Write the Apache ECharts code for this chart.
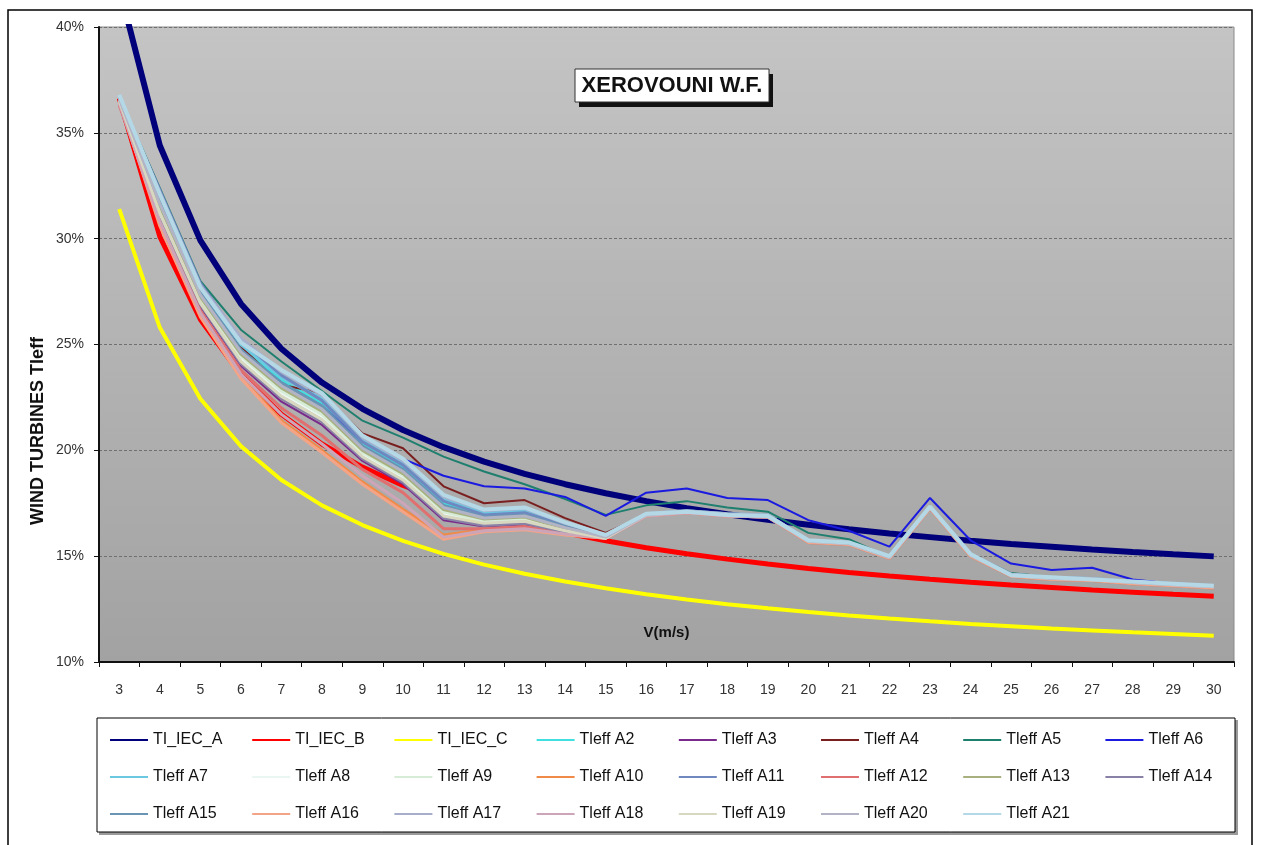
<!DOCTYPE html>
<html>
<head>
<meta charset="utf-8">
<script src="https://cdn.jsdelivr.net/npm/echarts@6/dist/echarts.min.js"></script>
<style>
  html, body { margin: 0; padding: 0; background: #ffffff; }
  #chart { width: 1264px; height: 845px; }
</style>
</head>
<body>
<div id="chart"></div>
<script>
// Wind speed bins (m/s)
const categories = ['3','4','5','6','7','8','9','10','11','12','13','14','15','16','17','18','19','20','21','22','23','24','25','26','27','28','29','30'];

// Turbulence intensity (%) — IEC reference classes
const tiIecA = [41.87, 34.4, 29.92, 26.93, 24.8, 23.2, 21.96, 20.96, 20.15, 19.47, 18.89, 18.4, 17.97, 17.6, 17.27, 16.98, 16.72, 16.48, 16.27, 16.07, 15.9, 15.73, 15.58, 15.45, 15.32, 15.2, 15.09, 14.99];
const tiIecB = [36.63, 30.1, 26.18, 23.57, 21.7, 20.3, 19.21, 18.34, 17.63, 17.03, 16.53, 16.1, 15.73, 15.4, 15.11, 14.86, 14.63, 14.42, 14.23, 14.06, 13.91, 13.77, 13.64, 13.52, 13.4, 13.3, 13.2, 13.11];
const tiIecC = [31.4, 25.8, 22.44, 20.2, 18.6, 17.4, 16.47, 15.72, 15.11, 14.6, 14.17, 13.8, 13.48, 13.2, 12.95, 12.73, 12.54, 12.36, 12.2, 12.05, 11.92, 11.8, 11.69, 11.58, 11.49, 11.4, 11.32, 11.24];

// Effective turbulence intensity (%) per turbine position
const tleffA2  = [36.6, 31.9, 27.5, 24.85, 23.3, 22.2, 20.3, 19.2, 17.5, 17.0, 17.1, 16.5, 15.95, 16.95, 17.1, 16.95, 16.9, 15.7, 15.6, 14.95, 17.3, 15.05, 14.1, 13.95, 13.9, 13.75, 13.65, 13.55];
const tleffA3  = [36.4, 31.0, 26.8, 24.0, 22.3, 21.2, 19.5, 18.4, 16.7, 16.4, 16.5, 16.1, 15.85, 16.9, 17.05, 16.9, 16.85, 15.65, 15.55, 14.9, 17.25, 15.0, 14.05, 13.9, 13.85, 13.7, 13.6, 13.5];
const tleffA4  = [36.6, 31.9, 27.5, 24.9, 23.1, 22.7, 20.8, 20.1, 18.3, 17.5, 17.65, 16.8, 16.1, 16.95, 17.1, 16.95, 16.9, 15.7, 15.6, 14.95, 17.3, 15.05, 14.1, 13.95, 13.9, 13.75, 13.65, 13.55];
const tleffA5  = [36.7, 32.4, 28.0, 25.7, 24.2, 22.8, 21.4, 20.6, 19.7, 19.0, 18.4, 17.7, 16.95, 17.4, 17.6, 17.3, 17.1, 16.1, 15.8, 14.95, 17.3, 15.1, 14.2, 14.0, 13.95, 13.8, 13.65, 13.55];
const tleffA6  = [36.7, 31.8, 27.4, 24.7, 23.2, 22.1, 20.4, 19.6, 18.8, 18.3, 18.2, 17.8, 16.9, 18.0, 18.2, 17.75, 17.65, 16.7, 16.2, 15.45, 17.75, 15.75, 14.65, 14.35, 14.45, 13.9, 13.7, 13.6];
const tleffA7  = [36.7, 32.0, 27.6, 25.0, 23.45, 22.45, 20.5, 19.4, 17.7, 17.05, 17.15, 16.5, 16.0, 17.0, 17.15, 17.0, 16.95, 15.75, 15.65, 15.0, 17.35, 15.1, 14.15, 14.0, 13.95, 13.8, 13.7, 13.6];
const tleffA8  = [36.5, 31.35, 27.05, 24.35, 22.7, 21.6, 19.8, 18.7, 17.0, 16.6, 16.7, 16.2, 15.9, 16.95, 17.1, 16.95, 16.9, 15.7, 15.6, 14.95, 17.3, 15.05, 14.1, 13.95, 13.9, 13.75, 13.65, 13.55];
const tleffA9  = [36.6, 31.45, 27.15, 24.45, 22.8, 21.7, 19.9, 18.8, 17.1, 16.65, 16.75, 16.25, 15.9, 16.9, 17.05, 16.9, 16.85, 15.7, 15.6, 14.95, 17.3, 15.05, 14.1, 13.95, 13.9, 13.75, 13.65, 13.55];
const tleffA10 = [36.5, 30.7, 26.4, 23.5, 21.4, 20.0, 18.5, 17.2, 16.0, 16.25, 16.35, 16.1, 15.9, 16.9, 17.05, 16.9, 16.85, 15.65, 15.55, 14.9, 17.25, 15.0, 14.05, 13.9, 13.85, 13.7, 13.6, 13.5];
const tleffA11 = [36.6, 32.3, 27.9, 25.2, 23.55, 22.35, 20.4, 19.3, 17.6, 16.95, 17.05, 16.45, 15.95, 16.95, 17.1, 16.95, 16.9, 15.7, 15.6, 14.95, 17.3, 15.05, 14.1, 13.95, 13.9, 13.75, 13.65, 13.55];
const tleffA12 = [36.3, 30.9, 26.6, 23.8, 22.0, 20.7, 19.1, 18.0, 16.3, 16.3, 16.4, 16.1, 15.85, 16.9, 17.05, 16.9, 16.85, 15.7, 15.6, 14.95, 17.3, 15.05, 14.1, 13.95, 13.9, 13.75, 13.65, 13.55];
const tleffA13 = [36.5, 31.55, 27.25, 24.55, 22.95, 21.85, 20.0, 18.9, 17.2, 16.75, 16.85, 16.3, 15.9, 16.95, 17.1, 16.95, 16.9, 15.7, 15.6, 14.95, 17.3, 15.05, 14.1, 13.95, 13.9, 13.75, 13.65, 13.55];
const tleffA14 = [36.6, 31.1, 26.9, 24.1, 22.45, 21.35, 19.6, 18.5, 16.8, 16.45, 16.55, 16.15, 15.85, 16.9, 17.05, 16.9, 16.85, 15.65, 15.55, 14.9, 17.25, 15.0, 14.05, 13.9, 13.85, 13.7, 13.6, 13.5];
const tleffA15 = [36.7, 31.75, 27.45, 24.75, 23.2, 22.1, 20.2, 19.1, 17.4, 16.85, 16.95, 16.4, 15.95, 16.95, 17.1, 16.95, 16.9, 15.7, 15.6, 14.95, 17.3, 15.05, 14.1, 13.95, 13.9, 13.75, 13.65, 13.55];
const tleffA16 = [36.5, 30.6, 26.3, 23.4, 21.3, 19.9, 18.4, 17.1, 15.8, 16.15, 16.25, 16.0, 15.85, 16.9, 17.05, 16.9, 16.85, 15.65, 15.55, 14.9, 17.25, 15.0, 14.05, 13.9, 13.85, 13.7, 13.6, 13.5];
const tleffA17 = [36.7, 32.2, 27.8, 25.3, 23.7, 22.6, 20.6, 19.5, 17.8, 17.15, 17.25, 16.55, 16.0, 17.0, 17.15, 17.0, 16.95, 15.75, 15.65, 15.0, 17.35, 15.1, 14.15, 14.0, 13.95, 13.8, 13.7, 13.6];
const tleffA18 = [36.4, 30.8, 26.5, 23.6, 21.7, 20.3, 18.8, 17.5, 15.9, 16.2, 16.3, 16.05, 15.85, 16.9, 17.05, 16.9, 16.85, 15.7, 15.6, 14.95, 17.3, 15.05, 14.1, 13.95, 13.9, 13.75, 13.65, 13.55];
const tleffA19 = [36.5, 31.2, 26.95, 24.2, 22.55, 21.45, 19.7, 18.6, 16.9, 16.55, 16.65, 16.2, 15.85, 16.95, 17.1, 16.95, 16.9, 15.7, 15.6, 14.95, 17.3, 15.05, 14.1, 13.95, 13.9, 13.75, 13.65, 13.55];
const tleffA20 = [36.6, 31.65, 27.35, 24.65, 23.05, 21.95, 20.1, 19.0, 17.3, 16.8, 16.9, 16.35, 15.9, 16.95, 17.1, 16.95, 16.9, 15.7, 15.6, 14.95, 17.3, 15.05, 14.1, 13.95, 13.9, 13.75, 13.65, 13.55];
const tleffA21 = [36.8, 32.1, 27.7, 25.1, 23.8, 22.7, 20.7, 19.6, 17.9, 17.2, 17.3, 16.6, 16.0, 17.0, 17.1, 16.95, 16.9, 15.75, 15.65, 15.0, 17.35, 15.1, 14.1, 14.0, 13.9, 13.8, 13.7, 13.6];

// Y axis range (%)
const yMin = 10, yMax = 40, yStep = 5;

const seriesDefs = [
  { name: 'TI_IEC_A',  data: tiIecA,  color: '#00007a', width: 6 },
  { name: 'TI_IEC_B',  data: tiIecB,  color: '#ff0000', width: 5 },
  { name: 'TI_IEC_C',  data: tiIecC,  color: '#ffff00', width: 4 },
  { name: 'Tleff A2',  data: tleffA2,  color: '#40e0e0', width: 3 },
  { name: 'Tleff A3',  data: tleffA3,  color: '#7a2a8a', width: 2 },
  { name: 'Tleff A4',  data: tleffA4,  color: '#7a1f1f', width: 2 },
  { name: 'Tleff A5',  data: tleffA5,  color: '#1f7f6f', width: 2 },
  { name: 'Tleff A6',  data: tleffA6,  color: '#1a1ae0', width: 2 },
  { name: 'Tleff A7',  data: tleffA7,  color: '#6cc8e0', width: 3 },
  { name: 'Tleff A8',  data: tleffA8,  color: '#eaf6f2', width: 3 },
  { name: 'Tleff A9',  data: tleffA9,  color: '#d6ecd6', width: 3 },
  { name: 'Tleff A10', data: tleffA10, color: '#f08a48', width: 3 },
  { name: 'Tleff A11', data: tleffA11, color: '#7088c0', width: 3 },
  { name: 'Tleff A12', data: tleffA12, color: '#e07070', width: 3 },
  { name: 'Tleff A13', data: tleffA13, color: '#a8b080', width: 3 },
  { name: 'Tleff A14', data: tleffA14, color: '#8a82a6', width: 3 },
  { name: 'Tleff A15', data: tleffA15, color: '#6a94b4', width: 3 },
  { name: 'Tleff A16', data: tleffA16, color: '#f4a486', width: 3 },
  { name: 'Tleff A17', data: tleffA17, color: '#a6aecc', width: 3 },
  { name: 'Tleff A18', data: tleffA18, color: '#cca6b8', width: 3 },
  { name: 'Tleff A19', data: tleffA19, color: '#d8d8c0', width: 3 },
  { name: 'Tleff A20', data: tleffA20, color: '#b2b4c6', width: 3 },
  { name: 'Tleff A21', data: tleffA21, color: '#b4d8e6', width: 4 }
];

const FONT = '"Liberation Sans", Arial, sans-serif';

// legend laid out as an 8-column table: one legend component per entry
const LEGEND_COLS = 8, LEGEND_LEFT = 110, LEGEND_COL_W = 142.2, LEGEND_TOP = 732, LEGEND_ROW_H = 37;
const legends = seriesDefs.map((s, i) => ({
  data: [s.name],
  orient: 'horizontal',
  left: LEGEND_LEFT + (i % LEGEND_COLS) * LEGEND_COL_W,
  top: LEGEND_TOP + Math.floor(i / LEGEND_COLS) * LEGEND_ROW_H,
  padding: 0,
  itemWidth: 38,
  itemHeight: 14,
  icon: 'path://M0,6 L38,6 L38,8 L0,8 Z',
  textStyle: { fontFamily: FONT, fontSize: 16, color: '#111' },
  selectedMode: false
}));

const chart = echarts.init(document.getElementById('chart'), null, { renderer: 'canvas' });

chart.setOption({
  backgroundColor: '#ffffff',
  animation: false,
  grid: {
    left: 99, top: 27, right: 30, bottom: 183,
    show: true,
    borderColor: '#8a8a8a',
    borderWidth: 1,
    backgroundColor: new echarts.graphic.LinearGradient(0, 0, 0, 1, [
      { offset: 0, color: '#c4c4c4' },
      { offset: 1, color: '#a2a2a2' }
    ])
  },
  legend: legends,
  xAxis: {
    type: 'category',
    data: categories,
    boundaryGap: true,
    name: 'V(m/s)',
    nameLocation: 'middle',
    nameGap: -29,
    nameTextStyle: { fontFamily: FONT, fontSize: 15, fontWeight: 'bold', color: '#111', verticalAlign: 'middle' },
    axisLine: { lineStyle: { color: '#111', width: 2 } },
    axisTick: { show: true, alignWithLabel: false, length: 5, lineStyle: { color: '#111' } },
    axisLabel: { fontFamily: FONT, fontSize: 14, color: '#333', margin: 21, interval: 0 },
    splitLine: { show: false }
  },
  yAxis: {
    type: 'value',
    min: yMin, max: yMax, interval: yStep,
    axisLine: { show: true, lineStyle: { color: '#111', width: 2 } },
    axisTick: { show: true, length: 5, lineStyle: { color: '#111' } },
    axisLabel: { fontFamily: FONT, fontSize: 14, color: '#333', margin: 15, formatter: '{value}%' },
    splitLine: { show: true, lineStyle: { color: '#707070', width: 1, type: [3, 2] } }
  },
  series: seriesDefs.map(s => ({
    name: s.name,
    type: 'line',
    data: s.data,
    symbol: 'none',
    smooth: false,
    clip: true,
    color: s.color,
    lineStyle: { color: s.color, width: s.width },
    emphasis: { disabled: true }
  })),
  graphic: [
    // outer frame
    { type: 'rect', x: 8, y: 10, shape: { width: 1244, height: 850 }, style: { fill: 'none', stroke: '#000', lineWidth: 1.5 }, silent: true, z: -1 },
    // legend box with shadow
    { type: 'rect', x: 99, y: 720, shape: { width: 1139, height: 115 }, style: { fill: '#9a9a9a' }, silent: true, z: -1 },
    { type: 'rect', x: 97, y: 718, shape: { width: 1138, height: 114 }, style: { fill: '#fff', stroke: '#000', lineWidth: 1 }, silent: true, z: -1 },
    // y axis title
    { type: 'text', x: 38, y: 431, rotation: Math.PI / 2, style: { text: 'WIND TURBINES TIeff', font: 'bold 18px "Liberation Sans", Arial, sans-serif', fill: '#111', align: 'center', verticalAlign: 'middle' }, silent: true, z: 12 },
    // title box
    { type: 'rect', x: 579, y: 74, shape: { width: 194, height: 33 }, style: { fill: '#111' }, silent: true, z: 10 },
    { type: 'rect', x: 575, y: 69, shape: { width: 194, height: 33 }, style: { fill: '#fff', stroke: '#333', lineWidth: 1 }, silent: true, z: 11 },
    { type: 'text', x: 672, y: 86, style: { text: 'XEROVOUNI W.F.', font: 'bold 22px "Liberation Sans", Arial, sans-serif', fill: '#111', align: 'center', verticalAlign: 'middle' }, silent: true, z: 12 }
  ]
});
</script>
</body>
</html>
